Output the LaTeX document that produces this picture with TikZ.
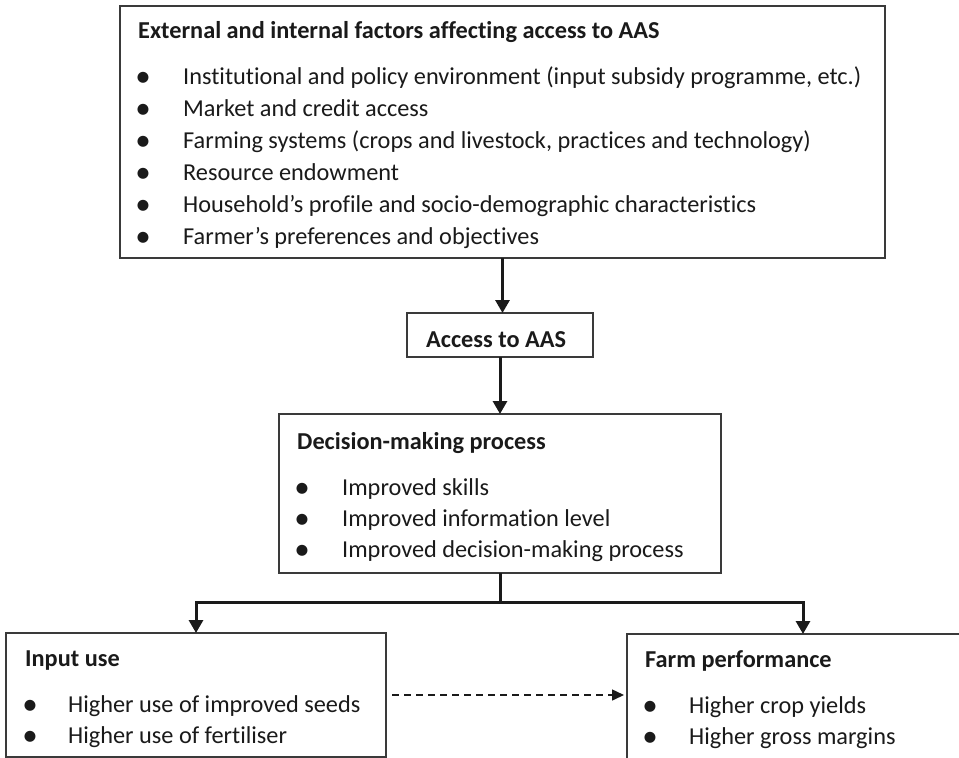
\documentclass[tikz,border=0pt]{standalone}
\usepackage{fontspec}
\setmainfont{Carlito}[Ligatures=NoCommon]
\usetikzlibrary{arrows.meta,calc}
\definecolor{ink}{HTML}{1A1A1A}
\definecolor{frame}{HTML}{3A3A3A}
\begin{document}
\begin{tikzpicture}[x=1pt,y=-1pt,
  box/.style={draw=frame,line width=1.3pt,anchor=north west,inner sep=0pt,outer sep=0pt},
  txt/.style={anchor=base west,inner sep=0pt,font=\fontsize{24.3}{28}\selectfont,text=ink},
  hd/.style={anchor=base west,inner sep=0pt,font=\fontsize{24.3}{28}\selectfont\bfseries,text=ink},
  bul/.style={anchor=base,inner sep=0pt,yshift=-2.5pt,font=\fontsize{31}{31}\selectfont,text=ink},
  conn/.style={line width=3pt,draw=ink},
  tip/.style={-{Triangle[width=14pt,length=13pt]}},
  dsh/.style={line width=1.5pt,draw=ink,dash pattern=on 7pt off 5pt,-{Triangle[width=11pt,length=12pt]}}
]
\useasboundingbox (0,0) rectangle (959,758);
\clip (0,0) rectangle (959,758);
\fill[white] (0,0) rectangle (959,758);

% boxes
\node[box,minimum width=765pt,minimum height=252pt] (top) at (120,6) {};
\node[box,minimum width=186pt,minimum height=44pt] (acc) at (407,313) {};
\node[box,minimum width=442pt,minimum height=159pt] (dec) at (279,414) {};
\node[box,minimum width=380pt,minimum height=124pt] (inp) at (6,633) {};
\node[box,minimum width=352pt,minimum height=200pt] (farm) at (627,634) {};

% top box text
\node[hd] (t0) at (138,38) {External and internal factors affecting access to AAS};
\node[bul] (b1) at (143,84) {•};
\node[txt] (t1) at (183,84) {Institutional and policy environment (input subsidy programme, etc.)};
\node[bul] (b2) at (143,116) {•};
\node[txt] (t2) at (183,116) {Market and credit access};
\node[bul] (b3) at (143,148) {•};
\node[txt] (t3) at (183,148) {Farming systems (crops and livestock, practices and technology)};
\node[bul] (b4) at (143,180) {•};
\node[txt] (t4) at (183,180) {Resource endowment};
\node[bul] (b5) at (143,212) {•};
\node[txt] (t5) at (183,212) {Household’s profile and socio-demographic characteristics};
\node[bul] (b6) at (143,244) {•};
\node[txt] (t6) at (183,244) {Farmer’s preferences and objectives};

% access
\node[hd] (a0) at (426,347) {Access to AAS};

% decision
\node[hd] (d0) at (297,449) {Decision-making process};
\node[bul] (db1) at (302,495) {•};
\node[txt] (d1) at (342,495) {Improved skills};
\node[bul] (db2) at (302,526) {•};
\node[txt] (d2) at (342,526) {Improved information level};
\node[bul] (db3) at (302,557) {•};
\node[txt] (d3) at (342,557) {Improved decision-making process};

% input use
\node[hd] (i0) at (25,666) {Input use};
\node[bul] (ib1) at (30,712) {•};
\node[txt] (i1) at (68,712) {Higher use of improved seeds};
\node[bul] (ib2) at (30,743) {•};
\node[txt] (i2) at (68,743) {Higher use of fertiliser};

% farm performance
\node[hd] (f0) at (645,667) {Farm performance};
\node[bul] (fb1) at (650,713) {•};
\node[txt] (f1) at (689,713) {Higher crop yields};
\node[bul] (fb2) at (650,744) {•};
\node[txt] (f2) at (689,744) {Higher gross margins};

% connectors
\draw[conn,tip] (top.south) -- (top.south |- acc.north);
\draw[conn,tip] (acc.south) -- (dec.north);
\draw[conn] (dec.south) -- ++(0,29) coordinate (j);
\draw[conn,tip] (j) -| (inp.north);
\draw[conn,tip] (j) -| (farm.north);
\draw[dsh] ([xshift=6pt]inp.east) -- ([xshift=-3pt]inp.east -| farm.west);
\end{tikzpicture}
\end{document}
